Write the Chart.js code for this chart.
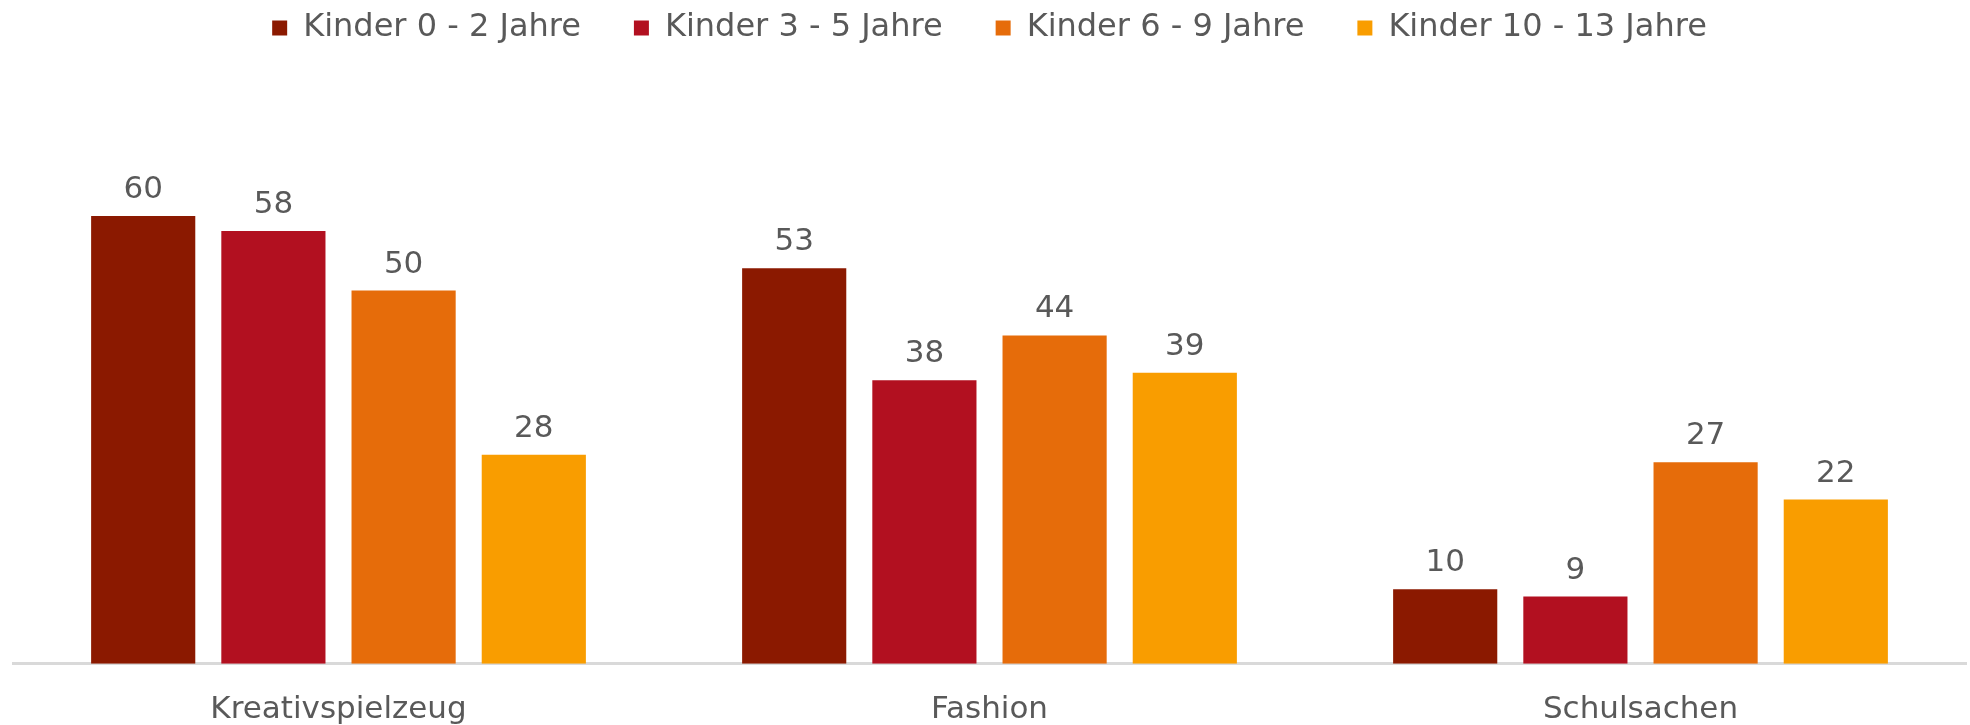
<!DOCTYPE html>
<html>
<head>
<meta charset="utf-8">
<script src="https://cdn.jsdelivr.net/npm/chart.js@4/dist/chart.umd.min.js"></script>
<style>
  html, body { margin: 0; padding: 0; background: #ffffff; }
  #wrap { width: 1970px; height: 725px; position: relative; }
</style>
</head>
<body>
<div id="wrap"><canvas id="c" width="1970" height="725"></canvas></div>
<script>
const categories = ["Kreativspielzeug", "Fashion", "Schulsachen"];
const seriesNames = ["Kinder 0 - 2 Jahre", "Kinder 3 - 5 Jahre", "Kinder 6 - 9 Jahre", "Kinder 10 - 13 Jahre"];
const kinder0bis2 = [60, 53, 10];
const kinder3bis5 = [58, 38, 9];
const kinder6bis9 = [50, 44, 27];
const kinder10bis13 = [28, 39, 22];
const seriesColors = ["#8B1900", "#B21020", "#E66C0A", "#F99D00"];

const FONT = "'DejaVu Sans', sans-serif";

const valueLabels = {
  id: 'valueLabels',
  afterDatasetsDraw(chart) {
    const ctx = chart.ctx;
    ctx.save();
    ctx.font = "31px " + FONT;
    ctx.fillStyle = "#595959";
    ctx.textAlign = "center";
    ctx.textBaseline = "alphabetic";
    chart.data.datasets.forEach((ds, i) => {
      const meta = chart.getDatasetMeta(i);
      meta.data.forEach((el, j) => {
        ctx.fillText(String(ds.data[j]), el.x, el.y - 18);
      });
    });
    ctx.restore();
  }
};

const allSeries = [kinder0bis2, kinder3bis5, kinder6bis9, kinder10bis13];

new Chart(document.getElementById('c'), {
  type: 'bar',
  data: {
    labels: categories,
    datasets: allSeries.map((d, i) => ({
      label: seriesNames[i],
      data: d,
      backgroundColor: seriesColors[i],
      borderWidth: 0,
      categoryPercentage: 0.8,
      barPercentage: 0.8
    }))
  },
  options: {
    responsive: false,
    animation: false,
    devicePixelRatio: 1,
    layout: { padding: { top: -41, left: 13, right: 4, bottom: -32 } },
    plugins: {
      legend: {
        display: true,
        position: 'top',
        labels: {
          boxWidth: 15,
          boxHeight: 15,
          padding: 53,
          color: "#595959",
          font: { family: FONT, size: 32 }
        }
      },
      tooltip: { enabled: false }
    },
    scales: {
      x: {
        grid: { display: false, drawTicks: false },
        border: { display: true, color: "#d9d9d9", width: 3 },
        ticks: {
          color: "#595959",
          padding: 28,
          font: { family: FONT, size: 31 }
        }
      },
      y: {
        display: false,
        min: 0,
        max: 81.7
      }
    }
  },
  plugins: [valueLabels]
});
</script>
</body>
</html>
